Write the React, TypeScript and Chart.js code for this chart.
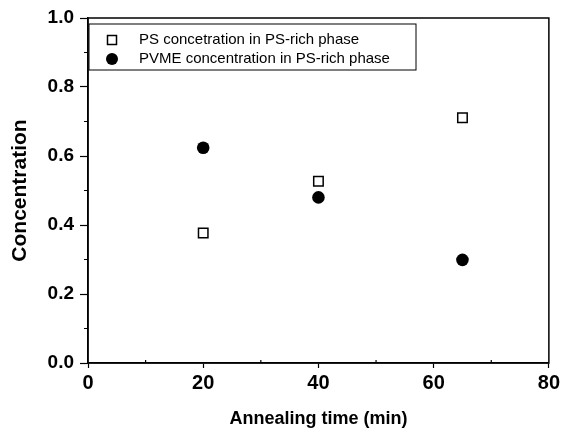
import React, { useEffect, useRef } from "react";
import { Chart, registerables } from "chart.js";

Chart.register(...registerables);

const seriesNames = ["PS concetration in PS-rich phase", "PVME concentration in PS-rich phase"];
const psTimes = [20, 40, 65];
const psValues = [0.377, 0.527, 0.711];
const pvmeTimes = [20, 40, 65];
const pvmeValues = [0.624, 0.48, 0.299];
const xTitle = "Annealing time (min)";
const yTitle = "Concentration";

const FONT = "'Liberation Sans', Arial, sans-serif";

const framePlugin = {
  id: "frame",
  afterDraw(chart: any) {
    const ctx = chart.ctx;
    const a = chart.chartArea;
    ctx.save();
    ctx.strokeStyle = "#000";
    ctx.lineWidth = 1.5;
    ctx.strokeRect(a.left, a.top, a.right - a.left, a.bottom - a.top);
    // minor ticks
    ctx.lineWidth = 1.2;
    const xs = chart.scales.x;
    const ys = chart.scales.y;
    ctx.beginPath();
    for (let v = 10; v < 80; v += 20) {
      const px = xs.getPixelForValue(v);
      ctx.moveTo(px, a.bottom);
      ctx.lineTo(px, a.bottom - 3);
    }
    for (let v = 0.1; v < 1; v += 0.2) {
      const py = ys.getPixelForValue(v);
      ctx.moveTo(a.left, py);
      ctx.lineTo(a.left - 4, py);
    }
    ctx.stroke();
    // legend box
    const lx = 89, ly = 24, lw = 327, lh = 46;
    ctx.lineWidth = 1;
    ctx.strokeRect(lx, ly, lw, lh);
    ctx.fillStyle = "#fff";
    ctx.lineWidth = 1.5;
    ctx.fillRect(107.5, 35.5, 9, 9);
    ctx.strokeRect(107.5, 35.5, 9, 9);
    ctx.fillStyle = "#000";
    ctx.beginPath();
    ctx.arc(112, 59, 6, 0, Math.PI * 2);
    ctx.fill();
    ctx.font = `15px ${FONT}`;
    ctx.textBaseline = "middle";
    ctx.textAlign = "left";
    ctx.fillText(seriesNames[0], 139, 40);
    ctx.fillText(seriesNames[1], 139, 59);
    ctx.restore();
  },
};

export default function App() {
  const ref = useRef<HTMLCanvasElement>(null);
  useEffect(() => {
    document.body.style.margin = "0";
    const chart = new Chart(ref.current as HTMLCanvasElement, {
      type: "scatter",
      data: {
        datasets: [
          {
            label: seriesNames[0],
            data: psTimes.map((x, i) => ({ x, y: psValues[i] })),
            pointStyle: "rect",
            pointRadius: 6.7,
            pointBorderWidth: 1.5,
            borderColor: "#000",
            backgroundColor: "#fff",
          },
          {
            label: seriesNames[1],
            data: pvmeTimes.map((x, i) => ({ x, y: pvmeValues[i] })),
            pointStyle: "circle",
            pointRadius: 6.3,
            pointBorderWidth: 0,
            borderColor: "#000",
            backgroundColor: "#000",
          },
        ],
      },
      options: {
        responsive: false,
        animation: false,
        layout: { padding: { left: 0, right: 13, top: 18, bottom: 0 } },
        plugins: { legend: { display: false }, tooltip: { enabled: false } },
        scales: {
          x: {
            type: "linear",
            min: 0,
            max: 80,
            ticks: { stepSize: 20, color: "#000", font: { family: FONT, size: 20, weight: "bold" }, padding: 3 },
            grid: { drawOnChartArea: false, tickColor: "#000", tickLength: 5, tickWidth: 1.2 },
            border: { color: "#000", width: 1.5 },
            title: { display: true, text: xTitle, color: "#000", font: { family: FONT, size: 18, weight: "bold" }, padding: { top: 0, bottom: 3 } },
            afterFit: (s: any) => { s.height = 70; },
          },
          y: {
            min: 0,
            max: 1,
            ticks: { stepSize: 0.2, color: "#000", font: { family: FONT, size: 19, weight: "bold" }, padding: 6, callback: (v: any) => Number(v).toFixed(1) },
            grid: { drawOnChartArea: false, tickColor: "#000", tickLength: 8, tickWidth: 1.2 },
            border: { color: "#000", width: 1.5 },
            title: { display: true, text: yTitle, color: "#000", font: { family: FONT, size: 21, weight: "bold" }, padding: { top: 7.5, bottom: 0 } },
            afterFit: (s: any) => { s.width = 88; },
          },
        },
      } as any,
      plugins: [framePlugin],
    });
    return () => chart.destroy();
  }, []);
  return (
    <div style={{ width: 563, height: 433 }}>
      <canvas ref={ref} width={563} height={433} style={{ display: "block" }} />
    </div>
  );
}
